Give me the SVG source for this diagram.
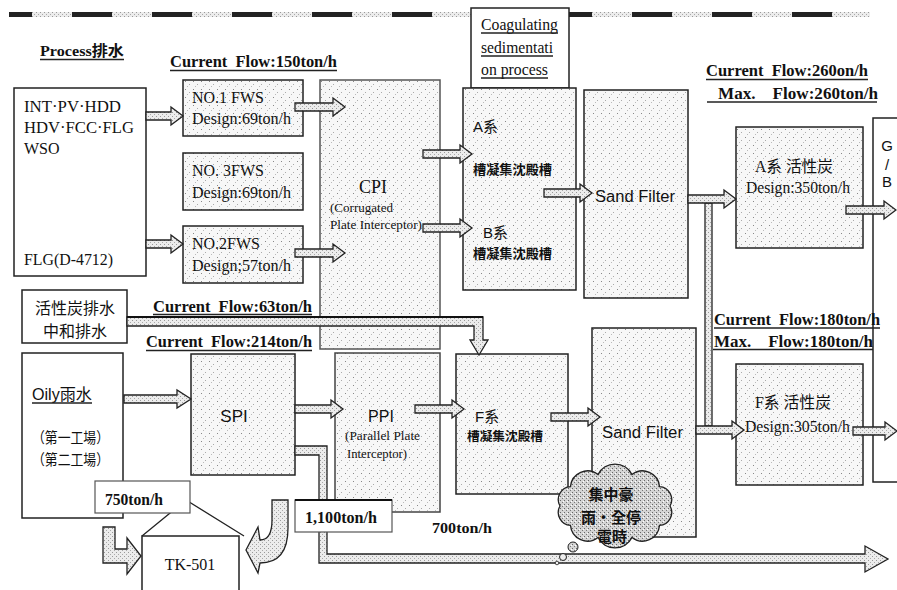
<svg xmlns="http://www.w3.org/2000/svg" width="897" height="590" viewBox="0 0 897 590">
<style>
.bx{stroke:#222;stroke-width:1.5;fill:url(#sp)}
.wb{stroke:#222;stroke-width:1.5;fill:#fff}
.lb{stroke:#555;stroke-width:1.2;fill:#fff}
.ar{stroke:#222;stroke-width:1.3;fill:url(#ap);stroke-linejoin:miter}
.ul{stroke:#222;stroke-width:1.3}
.sr{font-family:"Liberation Serif","Noto Sans CJK TC",serif;fill:#111}
.ss{font-family:"Liberation Sans","Noto Sans CJK TC",sans-serif;fill:#111}
.cj{font-family:"Noto Sans CJK TC","Noto Sans CJK JP",sans-serif;fill:#111}
.b{font-weight:bold}
</style>
<defs>
<pattern id="sp" width="8" height="8" patternUnits="userSpaceOnUse">
<rect width="8" height="8" fill="#f7f7f7"/>
<rect x="1" y="1" width="1" height="1" fill="#888"/>
<rect x="5" y="4" width="1" height="1" fill="#aaa"/>
<rect x="3" y="6" width="1" height="1" fill="#bbb"/>
</pattern>
<pattern id="ap" width="4" height="4" patternUnits="userSpaceOnUse">
<rect width="4" height="4" fill="#ececec"/>
<rect x="0" y="0" width="1" height="1" fill="#999"/>
<rect x="2" y="2" width="1" height="1" fill="#aaa"/>
</pattern>
<pattern id="cp" width="4" height="4" patternUnits="userSpaceOnUse">
<rect width="4" height="4" fill="#d4d4d4"/>
<rect x="0" y="0" width="1" height="1" fill="#666"/>
<rect x="2" y="2" width="1" height="1" fill="#777"/>
<rect x="3" y="1" width="1" height="1" fill="#fff"/>
</pattern>
</defs>
<rect width="897" height="590" fill="#fff"/>

<g id="topband">
<rect x="9" y="12" width="861" height="5" fill="url(#ap)"/>
<line x1="9" y1="14.5" x2="870" y2="14.5" stroke="#222" stroke-width="5" stroke-dasharray="40 40" stroke-dashoffset="17"/>
</g>

<g id="n-gb">
<rect x="873" y="118" width="30" height="364" fill="#fff" stroke="#222" stroke-width="1.5"/>
<text class="ss" x="887" y="151" font-size="15" text-anchor="middle">G</text>
<text class="ss" x="887" y="170" font-size="15" text-anchor="middle">/</text>
<text class="ss" x="887" y="187" font-size="15" text-anchor="middle">B</text>
</g>

<g id="labels">
<text class="sr b" x="40" y="56" font-size="15" textLength="84" lengthAdjust="spacingAndGlyphs">Process排水</text>
<line class="ul" x1="40" y1="59.5" x2="124" y2="59.5"/>
<text class="sr b" x="170" y="67" font-size="16" textLength="167" lengthAdjust="spacingAndGlyphs" xml:space="preserve">Current  Flow:150ton/h</text>
<line class="ul" x1="170" y1="70.5" x2="337" y2="70.5"/>
<text class="sr b" x="706" y="76" font-size="16" textLength="162" lengthAdjust="spacingAndGlyphs" xml:space="preserve">Current  Flow:260on/h</text>
<line class="ul" x1="706" y1="79.5" x2="868" y2="79.5"/>
<text class="sr b" x="718" y="99" font-size="16" textLength="160" lengthAdjust="spacingAndGlyphs" xml:space="preserve">Max.    Flow:260ton/h</text>
<line class="ul" x1="707" y1="102" x2="877" y2="102"/>
<text class="sr b" x="714" y="325" font-size="16" textLength="166" lengthAdjust="spacingAndGlyphs" xml:space="preserve">Current  Flow:180ton/h</text>
<line class="ul" x1="714" y1="328" x2="880" y2="328"/>
<text class="sr b" x="714" y="347" font-size="16" textLength="159" lengthAdjust="spacingAndGlyphs" xml:space="preserve">Max.    Flow:180ton/h</text>
<line class="ul" x1="713" y1="349.5" x2="873" y2="349.5"/>
<text class="sr b" x="153" y="312" font-size="16" textLength="159" lengthAdjust="spacingAndGlyphs" xml:space="preserve">Current  Flow:63ton/h</text>
<line class="ul" x1="153" y1="314.5" x2="312" y2="314.5"/>
<text class="sr b" x="146" y="347" font-size="16" textLength="166" lengthAdjust="spacingAndGlyphs" xml:space="preserve">Current  Flow:214ton/h</text>
<line class="ul" x1="146" y1="350.5" x2="312" y2="350.5"/>
<text class="sr b" x="432" y="533" font-size="15" textLength="60" lengthAdjust="spacingAndGlyphs">700ton/h</text>
</g>

<g id="n-int">
<rect class="wb" x="14" y="88" width="132" height="188"/>
<text class="sr" x="24" y="112" font-size="16" textLength="97" lengthAdjust="spacingAndGlyphs">INT·PV·HDD</text>
<text class="sr" x="24" y="133" font-size="16" textLength="110" lengthAdjust="spacingAndGlyphs">HDV·FCC·FLG</text>
<text class="sr" x="24" y="154" font-size="16">WSO</text>
<text class="sr" x="24" y="265" font-size="16" textLength="89" lengthAdjust="spacingAndGlyphs">FLG(D-4712)</text>
</g>
<g id="n-fws1">
<rect class="bx" x="183" y="80" width="120" height="56"/>
<text class="sr" x="192" y="103" font-size="16" textLength="72" lengthAdjust="spacingAndGlyphs">NO.1 FWS</text>
<text class="sr" x="192" y="124" font-size="16" textLength="99" lengthAdjust="spacingAndGlyphs">Design:69ton/h</text>
</g>
<g id="n-fws3">
<rect class="bx" x="183" y="153" width="120" height="57"/>
<text class="sr" x="192" y="176" font-size="16" textLength="72" lengthAdjust="spacingAndGlyphs">NO. 3FWS</text>
<text class="sr" x="192" y="198" font-size="16" textLength="99" lengthAdjust="spacingAndGlyphs">Design:69ton/h</text>
</g>
<g id="n-fws2">
<rect class="bx" x="183" y="226" width="120" height="57"/>
<text class="sr" x="192" y="249" font-size="16" textLength="68" lengthAdjust="spacingAndGlyphs">NO.2FWS</text>
<text class="sr" x="192" y="271" font-size="16" textLength="99" lengthAdjust="spacingAndGlyphs">Design;57ton/h</text>
</g>
<g id="n-cpi">
<rect class="bx" x="320" y="80" width="120" height="269" style="stroke:#555"/>
<text class="sr" x="373" y="193" font-size="18" text-anchor="middle">CPI</text>
<text class="sr" x="330" y="212" font-size="13" textLength="63" lengthAdjust="spacingAndGlyphs">(Corrugated</text>
<text class="sr" x="330" y="229" font-size="13" textLength="92" lengthAdjust="spacingAndGlyphs">Plate Interceptor)</text>
</g>
<g id="n-coag">
<rect class="wb" x="471" y="8" width="98" height="80"/>
<text class="sr" x="481" y="30" font-size="16" textLength="77" lengthAdjust="spacingAndGlyphs">Coagulating</text>
<line class="ul" x1="481" y1="33" x2="558" y2="33"/>
<text class="sr" x="481" y="53" font-size="16" textLength="72" lengthAdjust="spacingAndGlyphs">sedimentati</text>
<line class="ul" x1="481" y1="56" x2="553" y2="56"/>
<text class="sr" x="481" y="75" font-size="16" textLength="67" lengthAdjust="spacingAndGlyphs">on process</text>
<line class="ul" x1="481" y1="78" x2="548" y2="78"/>
</g>
<g id="n-ab">
<rect class="bx" x="463" y="88" width="113" height="202"/>
<text class="ss" x="473" y="132" font-size="15">A系</text>
<text class="cj b" x="473" y="174" font-size="13" textLength="79" lengthAdjust="spacingAndGlyphs">槽凝集沈殿槽</text>
<text class="ss" x="483" y="238" font-size="15">B系</text>
<text class="cj b" x="473" y="258" font-size="13" textLength="79" lengthAdjust="spacingAndGlyphs">槽凝集沈殿槽</text>
</g>
<g id="n-sand-a">
<rect class="bx" x="584" y="90" width="104" height="208"/>
<text class="ss" x="595" y="202" font-size="16" textLength="80" lengthAdjust="spacingAndGlyphs">Sand Filter</text>
</g>
<g id="n-ac-a">
<rect class="bx" x="736" y="127" width="127" height="121"/>
<text class="sr" x="755" y="172" font-size="16" textLength="78" lengthAdjust="spacingAndGlyphs">A系 活性炭</text>
<text class="sr" x="746" y="193" font-size="16" textLength="104" lengthAdjust="spacingAndGlyphs">Design:350ton/h</text>
</g>
<g id="n-ac-f">
<rect class="bx" x="736" y="364" width="127" height="121"/>
<text class="sr" x="755" y="408" font-size="16" textLength="76" lengthAdjust="spacingAndGlyphs">F系 活性炭</text>
<text class="sr" x="745" y="432" font-size="16" textLength="105" lengthAdjust="spacingAndGlyphs">Design:305ton/h</text>
</g>
<g id="n-sand-f">
<rect class="bx" x="592" y="328" width="104" height="209"/>
<text class="ss" x="602" y="438" font-size="16" textLength="81" lengthAdjust="spacingAndGlyphs">Sand Filter</text>
</g>
<g id="n-f">
<rect class="bx" x="456" y="354" width="112" height="140"/>
<text class="ss" x="475" y="422" font-size="15">F系</text>
<text class="cj b" x="467" y="441" font-size="12.5" textLength="76" lengthAdjust="spacingAndGlyphs">槽凝集沈殿槽</text>
</g>
<g id="n-ppi">
<rect class="bx" x="335" y="353" width="105" height="159" style="stroke:#444"/>
<text class="ss" x="381" y="422" font-size="16" text-anchor="middle">PPI</text>
<text class="sr" x="345" y="440" font-size="12.5" textLength="75" lengthAdjust="spacingAndGlyphs">(Parallel Plate</text>
<text class="sr" x="347" y="458" font-size="12.5" textLength="60" lengthAdjust="spacingAndGlyphs">Interceptor)</text>
</g>
<g id="n-spi">
<rect class="bx" x="191" y="354" width="104" height="121"/>
<text class="ss" x="234" y="422" font-size="17" text-anchor="middle">SPI</text>
</g>
<g id="n-act">
<rect class="wb" x="22" y="290" width="105" height="53"/>
<text class="cj" x="75" y="314" font-size="16" text-anchor="middle">活性炭排水</text>
<text class="cj" x="75" y="337" font-size="16" text-anchor="middle">中和排水</text>
</g>
<g id="n-oily">
<rect class="wb" x="22" y="353" width="101" height="165"/>
<text class="ss" x="32" y="400" font-size="16" textLength="60" lengthAdjust="spacingAndGlyphs">Oily雨水</text>
<line class="ul" x1="32" y1="403" x2="92" y2="403"/>
<text class="cj" x="32" y="443" font-size="15" textLength="77" lengthAdjust="spacingAndGlyphs">（第一工場）</text>
<text class="cj" x="32" y="465" font-size="15" textLength="77" lengthAdjust="spacingAndGlyphs">（第二工場）</text>
</g>
<g id="n-tk">
<polyline points="142,536 186,500 244,536" fill="none" stroke="#222" stroke-width="1.3"/>
<rect class="wb" x="142" y="536" width="97" height="70"/>
<text class="sr" x="190" y="570" font-size="16" text-anchor="middle">TK-501</text>
</g>

<g id="connectors">
<polygon class="ar" points="146,112 171,112 171,107 183,116 171,125 171,120 146,120"/>
<polygon class="ar" points="146,240 171,240 171,235 183,244 171,253 171,248 146,248"/>
<polygon class="ar" points="295,103 333,103 333,98 345,107 333,116 333,111 295,111"/>
<polygon class="ar" points="295,249 333,249 333,244 345,253 333,262 333,257 295,257"/>
<polygon class="ar" points="423,150 460,150 460,145 472,154 460,163 460,158 423,158"/>
<polygon class="ar" points="423,224 460,224 460,219 472,228 460,237 460,232 423,232"/>
<polygon class="ar" points="544,189 580,189 580,184 592,193 580,202 580,197 544,197"/>
<rect class="ar" x="705" y="203" width="7" height="223"/>
<polygon class="ar" points="688,195 724,195 724,190 736,199 724,208 724,203 688,203"/>
<polygon class="ar" points="846,206 884,206 884,201 896,210 884,219 884,214 846,214"/>
<polygon class="ar" points="124,395 177,395 177,390 191,399 177,408 177,403 124,403"/>
<polygon class="ar" points="295,405 331,405 331,400 343,409 331,418 331,413 295,413"/>
<polygon class="ar" points="415,405 452,405 452,400 464,409 452,418 452,413 415,413"/>
<polygon class="ar" points="551,413 588,413 588,408 600,417 588,426 588,421 551,421"/>
<polygon class="ar" points="696,426 732,426 732,421 744,430 732,439 732,434 696,434"/>
<polygon class="ar" points="853,427 885,427 885,422 897,431 885,440 885,435 853,435"/>
<polygon class="ar" points="127,317 483,317 483,340 488,340 479,355 470,340 474,340 474,326 127,326"/>
<line x1="127" y1="317" x2="483" y2="317" stroke="#111" stroke-width="2"/>
<polygon class="ar" points="295,446 327,446 327,554 865,554 865,546 888,559 865,572 865,563 319,563 319,455 295,455"/>
<path class="ar" d="M272,500 L288,500 L288,528 Q288,563 260,563 L258,573 L246,550 L258,527 L260,540 Q272,540 272,520 Z"/>
<path class="ar" d="M103,527 H115 V549 H127 V538 L141,556 L127,574 V563 H103 Z"/>
</g>

<g id="n-750">
<rect class="lb" x="95" y="481" width="95" height="32"/>
<text class="sr b" x="105" y="505" font-size="16" textLength="58" lengthAdjust="spacingAndGlyphs">750ton/h</text>
</g>
<g id="n-1100">
<rect class="lb" x="295" y="500" width="97" height="32"/>
<line x1="295" y1="500" x2="392" y2="500" stroke="#111" stroke-width="1.8"/>
<text class="sr b" x="305" y="523" font-size="16" textLength="72" lengthAdjust="spacingAndGlyphs">1,100ton/h</text>
</g>
<g id="n-cloud">
<path d="M670,506 A13,13 0 0 1 659.5,525.4 A17,17 0 0 1 632,537.4 A19,19 0 0 1 598,537.4 A17,17 0 0 1 570.5,525.4 A13,13 0 0 1 560,506 A13,13 0 0 1 570.5,486.6 A17,17 0 0 1 598,474.6 A19,19 0 0 1 632,474.6 A17,17 0 0 1 659.5,486.6 A13,13 0 0 1 670,506 Z" fill="url(#cp)" stroke="#222" stroke-width="1.3"/>
<circle cx="573" cy="547" r="5" fill="url(#cp)" stroke="#222" stroke-width="1"/>
<circle cx="563" cy="557" r="3.5" fill="#eee" stroke="#222" stroke-width="1"/>
<circle cx="557" cy="563" r="1.8" fill="#eee" stroke="#222" stroke-width="0.8"/>
<text class="cj b" x="611" y="500" font-size="15" text-anchor="middle">集中豪</text>
<text class="cj b" x="611" y="523" font-size="15" text-anchor="middle">雨·全停</text>
<text class="cj b" x="612" y="542" font-size="15" text-anchor="middle">電時</text>
</g>
</svg>
